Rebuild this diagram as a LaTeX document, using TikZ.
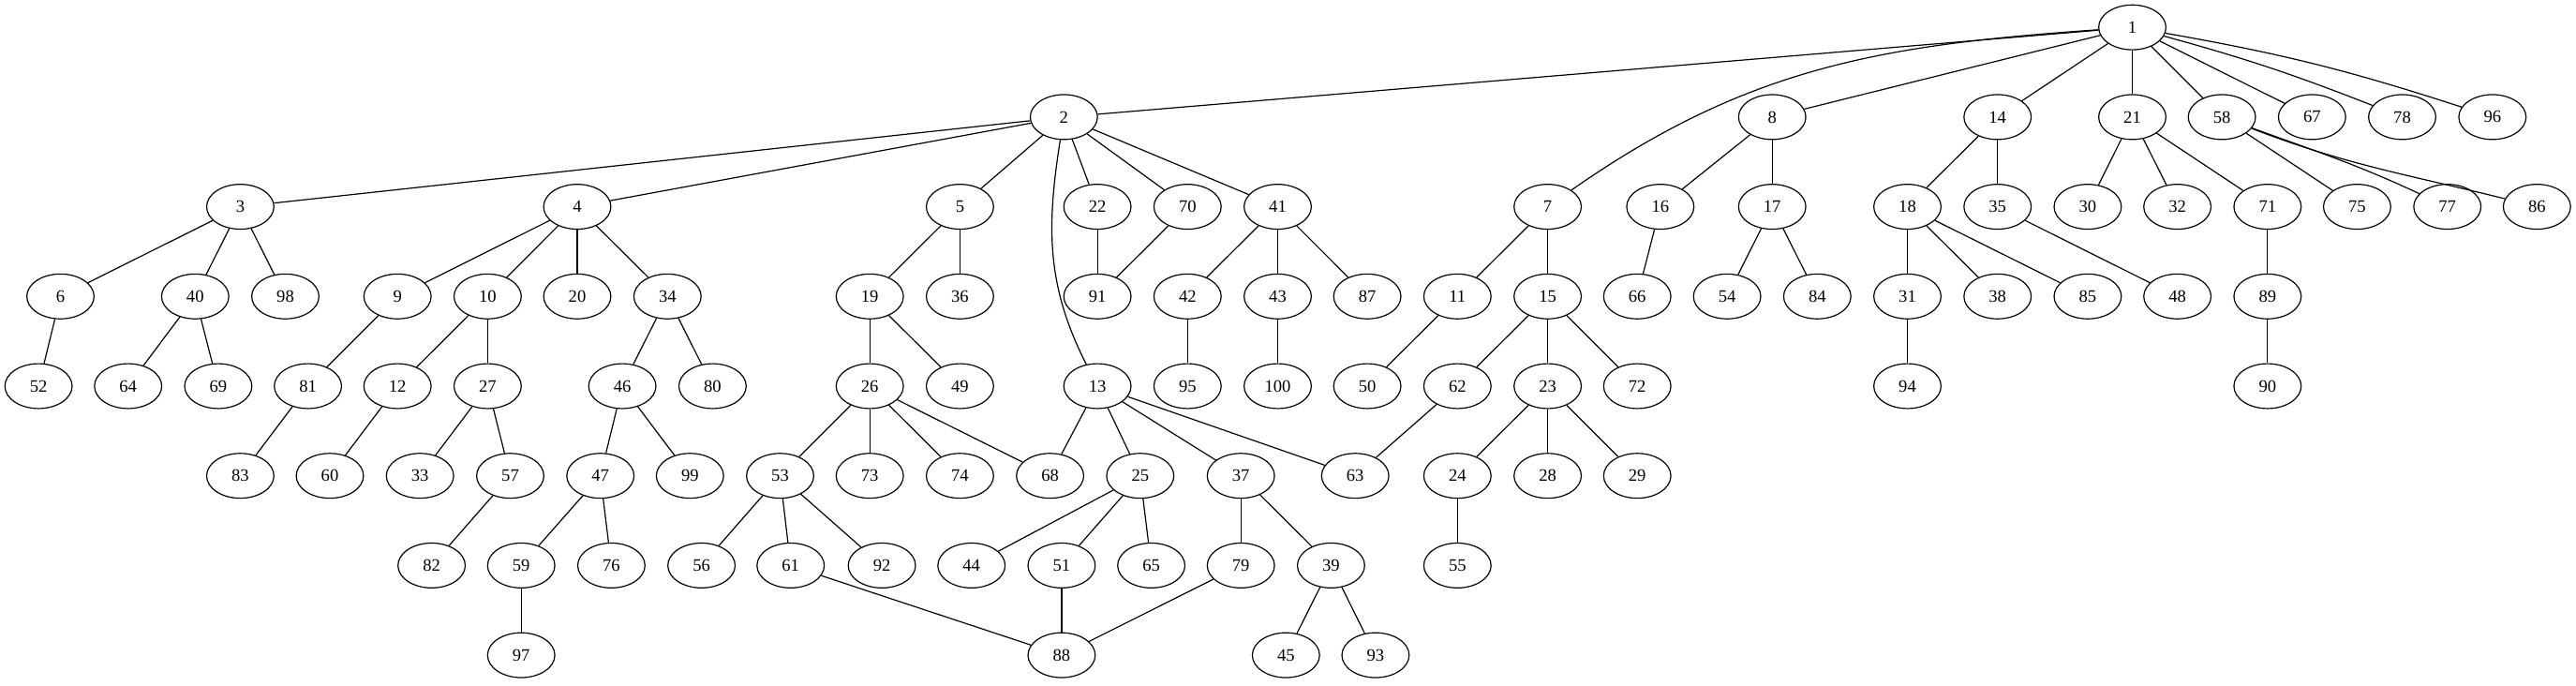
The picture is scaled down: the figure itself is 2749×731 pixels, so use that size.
\documentclass[tikz,border=0pt]{standalone}
\usepackage{fontspec}
\setmainfont{Liberation Serif}
\usetikzlibrary{shapes.geometric}
\begin{document}
\begin{tikzpicture}[x=0.7524pt,y=-0.7524pt,
  v/.style={draw, ellipse, line width=0.9pt, minimum width=54pt, minimum height=36pt, inner sep=0pt, font=\fontsize{14}{16}\selectfont},
  e/.style={line width=0.9pt}]
\useasboundingbox (0,0) rectangle (2749,731);
\def\ra{29.2}\def\rb{124.9}\def\rc{220.6}\def\rd{316.3}\def\re{412}\def\rf{507.7}\def\rg{603.4}\def\rh{699.1}
% row 0
\node[v] (n1) at (2275.5,\ra) {1};
% row 1
\node[v] (n2) at (1135.3,\rb) {2};
\node[v] (n8) at (1891.2,\rb) {8};
\node[v] (n14) at (2131.7,\rb) {14};
\node[v] (n21) at (2275.5,\rb) {21};
\node[v] (n58) at (2371.1,\rb) {58};
\node[v] (n67) at (2467.3,\rb) {67};
\node[v] (n78) at (2563.5,\rb) {78};
\node[v] (n96) at (2659.8,\rb) {96};
% row 2
\node[v] (n3) at (256.4,\rc) {3};
\node[v] (n4) at (616.0,\rc) {4};
\node[v] (n5) at (1024.4,\rc) {5};
\node[v] (n22) at (1171.1,\rc) {22};
\node[v] (n70) at (1267.3,\rc) {70};
\node[v] (n41) at (1363.5,\rc) {41};
\node[v] (n7) at (1651.6,\rc) {7};
\node[v] (n16) at (1771.8,\rc) {16};
\node[v] (n17) at (1891.2,\rc) {17};
\node[v] (n18) at (2035.5,\rc) {18};
\node[v] (n35) at (2131.7,\rc) {35};
\node[v] (n30) at (2227.9,\rc) {30};
\node[v] (n32) at (2323.6,\rc) {32};
\node[v] (n71) at (2419.8,\rc) {71};
\node[v] (n75) at (2515.4,\rc) {75};
\node[v] (n77) at (2611.7,\rc) {77};
\node[v] (n86) at (2707.3,\rc) {86};
% row 3
\node[v] (n6) at (64.5,\rd) {6};
\node[v] (n40) at (208.3,\rd) {40};
\node[v] (n98) at (304.5,\rd) {98};
\node[v] (n9) at (424.2,\rd) {9};
\node[v] (n10) at (520.4,\rd) {10};
\node[v] (n20) at (616.0,\rd) {20};
\node[v] (n34) at (712.3,\rd) {34};
\node[v] (n19) at (928.2,\rd) {19};
\node[v] (n36) at (1024.4,\rd) {36};
\node[v] (n91) at (1171.1,\rd) {91};
\node[v] (n42) at (1267.3,\rd) {42};
\node[v] (n43) at (1363.5,\rd) {43};
\node[v] (n87) at (1459.1,\rd) {87};
\node[v] (n11) at (1555.3,\rd) {11};
\node[v] (n15) at (1651.6,\rd) {15};
\node[v] (n66) at (1747.2,\rd) {66};
\node[v] (n54) at (1843.1,\rd) {54};
\node[v] (n84) at (1939.3,\rd) {84};
\node[v] (n31) at (2035.5,\rd) {31};
\node[v] (n38) at (2131.7,\rd) {38};
\node[v] (n85) at (2227.9,\rd) {85};
\node[v] (n48) at (2323.6,\rd) {48};
\node[v] (n89) at (2419.8,\rd) {89};
% row 4
\node[v] (n52) at (41.1,\re) {52};
\node[v] (n64) at (136.7,\re) {64};
\node[v] (n69) at (232.9,\re) {69};
\node[v] (n81) at (328.6,\re) {81};
\node[v] (n12) at (424.2,\re) {12};
\node[v] (n27) at (520.4,\re) {27};
\node[v] (n46) at (664.1,\re) {46};
\node[v] (n80) at (760.4,\re) {80};
\node[v] (n26) at (928.2,\re) {26};
\node[v] (n49) at (1024.4,\re) {49};
\node[v] (n13) at (1171.1,\re) {13};
\node[v] (n95) at (1267.3,\re) {95};
\node[v] (n100) at (1363.5,\re) {100};
\node[v] (n50) at (1459.1,\re) {50};
\node[v] (n62) at (1555.3,\re) {62};
\node[v] (n23) at (1651.6,\re) {23};
\node[v] (n72) at (1747.2,\re) {72};
\node[v] (n94) at (2035.5,\re) {94};
\node[v] (n90) at (2419.8,\re) {90};
% row 5
\node[v] (n83) at (256.4,\rf) {83};
\node[v] (n60) at (352.0,\rf) {60};
\node[v] (n33) at (448.2,\rf) {33};
\node[v] (n57) at (544.5,\rf) {57};
\node[v] (n47) at (640.7,\rf) {47};
\node[v] (n99) at (736.3,\rf) {99};
\node[v] (n53) at (832.5,\rf) {53};
\node[v] (n73) at (928.2,\rf) {73};
\node[v] (n74) at (1024.4,\rf) {74};
\node[v] (n68) at (1120.6,\rf) {68};
\node[v] (n25) at (1216.8,\rf) {25};
\node[v] (n37) at (1324.2,\rf) {37};
\node[v] (n63) at (1446.2,\rf) {63};
\node[v] (n24) at (1555.3,\rf) {24};
\node[v] (n28) at (1651.6,\rf) {28};
\node[v] (n29) at (1747.2,\rf) {29};
% row 6
\node[v] (n82) at (460.6,\rg) {82};
\node[v] (n59) at (556.2,\rg) {59};
\node[v] (n76) at (652.4,\rg) {76};
\node[v] (n56) at (748.6,\rg) {56};
\node[v] (n61) at (843.7,\rg) {61};
\node[v] (n92) at (941.1,\rg) {92};
\node[v] (n44) at (1036.7,\rg) {44};
\node[v] (n51) at (1132.9,\rg) {51};
\node[v] (n65) at (1228.6,\rg) {65};
\node[v] (n79) at (1324.2,\rg) {79};
\node[v] (n39) at (1420.4,\rg) {39};
\node[v] (n55) at (1555.3,\rg) {55};
% row 7
\node[v] (n97) at (556.2,\rh) {97};
\node[v] (n88) at (1132.9,\rh) {88};
\node[v] (n45) at (1372.3,\rh) {45};
\node[v] (n93) at (1467.9,\rh) {93};
% edges
\draw[e] (n1) -- (n2);
\draw[e] (n1) to[out=184, in=35] (n7);
\draw[e] (n1) -- (n8);
\draw[e] (n1) -- (n14);
\draw[e] (n1) -- (n21);
\draw[e] (n1) -- (n58);
\draw[e] (n1) -- (n67);
\draw[e] (n1) to[bend left=3] (n78);
\draw[e] (n1) to[bend left=4] (n96);
\draw[e] (n2) -- (n3);
\draw[e] (n2) -- (n4);
\draw[e] (n2) -- (n5);
\draw[e] (n2) to[out=-99, in=117] (n13);
\draw[e] (n2) -- (n22);
\draw[e] (n2) -- (n70);
\draw[e] (n2) -- (n41);
\draw[e] (n3) -- (n6);
\draw[e] (n3) -- (n40);
\draw[e] (n3) -- (n98);
\draw[e] (n4) -- (n9);
\draw[e] (n4) -- (n10);
\draw[e] (n4) -- (n20);
\draw[e] (n4) -- (n34);
\draw[e] (n6) -- (n52);
\draw[e] (n40) -- (n64);
\draw[e] (n40) -- (n69);
\draw[e] (n9) -- (n81);
\draw[e] (n81) -- (n83);
\draw[e] (n10) -- (n12);
\draw[e] (n10) -- (n27);
\draw[e] (n12) -- (n60);
\draw[e] (n27) -- (n33);
\draw[e] (n27) -- (n57);
\draw[e] (n57) -- (n82);
\draw[e] (n34) -- (n46);
\draw[e] (n34) -- (n80);
\draw[e] (n46) -- (n47);
\draw[e] (n46) -- (n99);
\draw[e] (n47) -- (n59);
\draw[e] (n47) -- (n76);
\draw[e] (n59) -- (n97);
\draw[e] (n5) -- (n19);
\draw[e] (n5) -- (n36);
\draw[e] (n19) -- (n26);
\draw[e] (n19) -- (n49);
\draw[e] (n26) -- (n53);
\draw[e] (n26) -- (n73);
\draw[e] (n26) -- (n74);
\draw[e] (n26) -- (n68);
\draw[e] (n53) -- (n56);
\draw[e] (n53) -- (n61);
\draw[e] (n53) -- (n92);
\draw[e] (n61) -- (n88);
\draw[e] (n22) -- (n91);
\draw[e] (n70) -- (n91);
\draw[e] (n41) -- (n42);
\draw[e] (n41) -- (n43);
\draw[e] (n41) -- (n87);
\draw[e] (n42) -- (n95);
\draw[e] (n43) -- (n100);
\draw[e] (n13) -- (n68);
\draw[e] (n13) -- (n25);
\draw[e] (n13) -- (n37);
\draw[e] (n13) -- (n63);
\draw[e] (n25) -- (n44);
\draw[e] (n25) -- (n51);
\draw[e] (n25) -- (n65);
\draw[e] (n51) -- (n88);
\draw[e] (n37) -- (n79);
\draw[e] (n37) -- (n39);
\draw[e] (n79) -- (n88);
\draw[e] (n39) -- (n45);
\draw[e] (n39) -- (n93);
\draw[e] (n7) -- (n11);
\draw[e] (n7) -- (n15);
\draw[e] (n11) -- (n50);
\draw[e] (n15) -- (n62);
\draw[e] (n15) -- (n23);
\draw[e] (n15) -- (n72);
\draw[e] (n62) -- (n63);
\draw[e] (n23) -- (n24);
\draw[e] (n23) -- (n28);
\draw[e] (n23) -- (n29);
\draw[e] (n24) -- (n55);
\draw[e] (n8) -- (n16);
\draw[e] (n8) -- (n17);
\draw[e] (n16) -- (n66);
\draw[e] (n17) -- (n54);
\draw[e] (n17) -- (n84);
\draw[e] (n14) -- (n18);
\draw[e] (n14) -- (n35);
\draw[e] (n18) -- (n31);
\draw[e] (n18) -- (n38);
\draw[e] (n18) -- (n85);
\draw[e] (n31) -- (n94);
\draw[e] (n35) -- (n48);
\draw[e] (n21) -- (n30);
\draw[e] (n21) -- (n32);
\draw[e] (n21) -- (n71);
\draw[e] (n71) -- (n89);
\draw[e] (n89) -- (n90);
\draw[e] (n58) -- (n75);
\draw[e] (n58) to[out=-20, in=155] (n77);
\draw[e] (n58) to[out=-21, in=166] (n86);
\end{tikzpicture}
\end{document}
